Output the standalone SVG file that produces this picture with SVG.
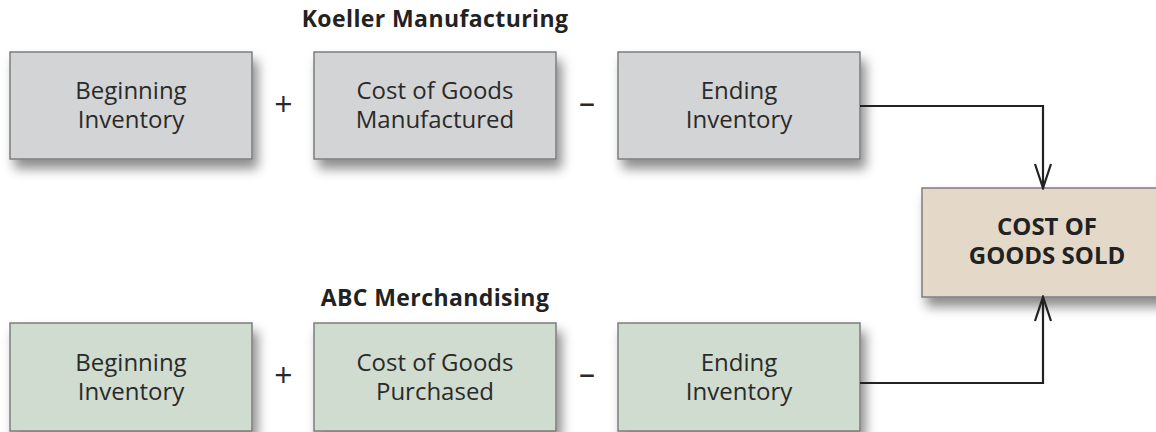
<svg xmlns="http://www.w3.org/2000/svg" width="1156" height="432" viewBox="0 0 1156 432">
<defs>
<filter id="sh" x="-20%" y="-30%" width="150%" height="170%">
<feDropShadow dx="5" dy="9" stdDeviation="6" flood-color="#000" flood-opacity="0.45"/>
</filter>
<marker id="arr" viewBox="0 0 30 20" refX="28" refY="10" markerWidth="30" markerHeight="20" markerUnits="userSpaceOnUse" orient="auto">
<path d="M4,2 L28,10 L4,18" fill="none" stroke="#222" stroke-width="2.2"/>
</marker>
</defs>
<style>
.grey{fill:#d3d4d6;stroke:#7d7d7d;stroke-width:1.5;filter:url(#sh)}
.green{fill:#cfdccf;stroke:#7d7d7d;stroke-width:1.5;filter:url(#sh)}
.tan{fill:#e4d9c8;stroke:#7d7d7d;stroke-width:1.5;filter:url(#sh)}
.t{font-family:"Open Sans","Noto Sans","DejaVu Sans",sans-serif;font-size:24px;fill:#2a2a2a;text-anchor:middle}
.h{font-family:"Open Sans","Noto Sans","DejaVu Sans",sans-serif;font-size:23px;letter-spacing:0.4px;font-weight:bold;fill:#222;text-anchor:middle}
.b{font-family:"Open Sans","Noto Sans","DejaVu Sans",sans-serif;font-size:24px;font-weight:bold;fill:#222;text-anchor:middle}
.op{font-family:"Open Sans","Noto Sans","DejaVu Sans",sans-serif;font-size:32px;fill:#2a2a2a;text-anchor:middle}
.c{fill:none;stroke:#222;stroke-width:2.2}
</style>
<rect width="1156" height="432" fill="#fff"/>
<text class="h" x="435" y="27">Koeller Manufacturing</text>
<text class="h" x="435" y="306">ABC Merchandising</text>
<g id="k-begin"><rect class="grey" x="10" y="52" width="242" height="107"/><text class="t" x="131" y="99">Beginning<tspan x="131" dy="29">Inventory</tspan></text></g>
<g id="k-cogm"><rect class="grey" x="314" y="52" width="242" height="107"/><text class="t" x="435" y="99">Cost of Goods<tspan x="435" dy="29">Manufactured</tspan></text></g>
<g id="k-end"><rect class="grey" x="618" y="52" width="242" height="107"/><text class="t" x="739" y="99">Ending<tspan x="739" dy="29">Inventory</tspan></text></g>
<text class="op" x="283.5" y="116">+</text>
<text class="op" x="587" y="114">–</text>
<g id="a-begin"><rect class="green" x="10" y="323" width="242" height="108"/><text class="t" x="131" y="371">Beginning<tspan x="131" dy="29">Inventory</tspan></text></g>
<g id="a-cogp"><rect class="green" x="314" y="323" width="242" height="108"/><text class="t" x="435" y="371">Cost of Goods<tspan x="435" dy="29">Purchased</tspan></text></g>
<g id="a-end"><rect class="green" x="618" y="323" width="242" height="108"/><text class="t" x="739" y="371">Ending<tspan x="739" dy="29">Inventory</tspan></text></g>
<text class="op" x="283.5" y="387">+</text>
<text class="op" x="587" y="385">–</text>
<g id="cogs"><rect class="tan" x="922" y="188" width="240" height="109"/><text class="b" x="1047" y="235">COST OF<tspan x="1047" dy="29">GOODS SOLD</tspan></text></g>
<g id="connectors">
<path class="c" d="M860,106 H1043 V188" marker-end="url(#arr)"/>
<path class="c" d="M860,383 H1043 V297" marker-end="url(#arr)"/>
</g>
</svg>
